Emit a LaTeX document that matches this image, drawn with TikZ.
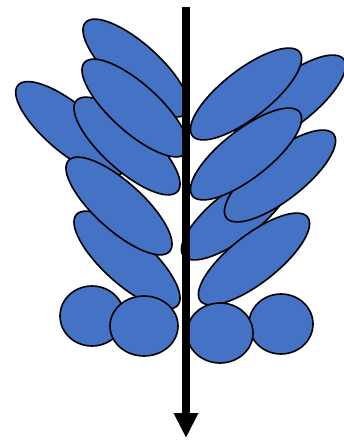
\documentclass[tikz,border=0pt]{standalone}
\usetikzlibrary{arrows.meta}
\definecolor{leafblue}{HTML}{4472C4}

\begin{document}
\begin{tikzpicture}[x=1pt, y=-1pt, leaf/.style={fill=leafblue, draw=black, line width=1.6pt}, stem/.style={line width=8pt, -{Triangle[width=23pt, length=25pt]}}]
\useasboundingbox (0,0) rectangle (344,441);
% left leaves, back to front
\foreach \cx/\cy/\ang in {70/129/-40, 136/68/-42, 127/146/-42, 135/108/-42, 127/260/-42, 119/206/-42}{\draw[leaf, shift={(\cx,\cy)}, rotate=\ang] (0,0) ellipse [x radius=68, y radius=24];}
% right leaves, back to front
\foreach \cx/\cy/\ang in {290/101/38, 246/94/38, 237/214/38, 280/176/38, 246/154/38, 254/259/38}{\draw[leaf, shift={(\cx,\cy)}, rotate=\ang] (0,0) ellipse [x radius=68, y radius=24];}
% round ones at the foot
\foreach \cx/\cy/\rx in {92/316/32, 144/326/34, 281/324/32, 220/333/33}{\draw[leaf] (\cx,\cy) ellipse [x radius=\rx, y radius=30];}
\coordinate (top) at (186,7);
\coordinate (tip) at (186,438);
\draw[stem] (top) -- (tip);
\end{tikzpicture}
\end{document}
